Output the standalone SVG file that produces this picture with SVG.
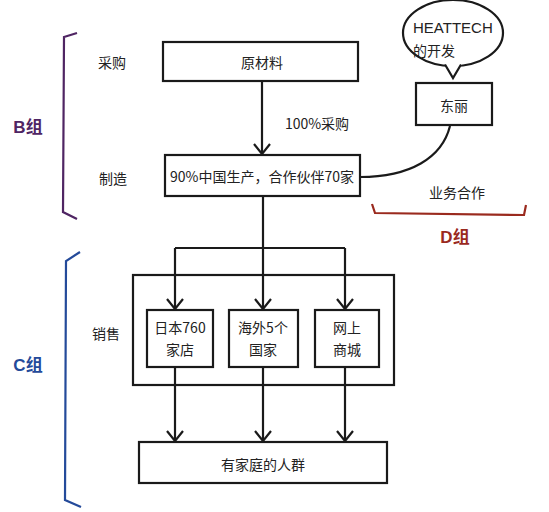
<svg xmlns="http://www.w3.org/2000/svg" width="549" height="512" viewBox="0 0 549 512">
<style>
.box{fill:#fff;stroke:#1a1a1a;stroke-width:2.2}
.ln{fill:none;stroke:#1a1a1a;stroke-width:2.2}
.t{font-family:"Noto Sans CJK SC","Liberation Sans",sans-serif;font-size:14px;fill:#222;text-anchor:middle;dominant-baseline:central}
.g{font-family:"Liberation Sans","Noto Sans CJK SC",sans-serif;font-size:17px;font-weight:bold;text-anchor:middle;dominant-baseline:central}
</style>
<defs>
<marker id="ah" markerUnits="userSpaceOnUse" markerWidth="24" markerHeight="24" viewBox="-12 -12 24 24" refX="0" refY="0" orient="auto">
<path d="M-10,-8 L0,0 L-10,8" fill="none" stroke="#1a1a1a" stroke-width="2.2"/>
</marker>
</defs>
<rect width="549" height="512" fill="#fff"/>

<g id="connectors">
<line class="ln" x1="262" y1="81" x2="262" y2="154" marker-end="url(#ah)"/>
<path class="ln" d="M263,196 L263,248"/>
<path class="ln" d="M175,248 L345,248"/>
<line class="ln" x1="175" y1="248" x2="175" y2="309" marker-end="url(#ah)"/>
<line class="ln" x1="263" y1="248" x2="263" y2="309" marker-end="url(#ah)"/>
<line class="ln" x1="345" y1="248" x2="345" y2="309" marker-end="url(#ah)"/>
<line class="ln" x1="175" y1="367" x2="175" y2="441" marker-end="url(#ah)"/>
<line class="ln" x1="263" y1="367" x2="263" y2="441" marker-end="url(#ah)"/>
<line class="ln" x1="345" y1="367" x2="345" y2="441" marker-end="url(#ah)"/>
<path class="ln" d="M450,126 C442,158 410,177 360,177"/>
</g>

<g id="group-B">
<path d="M77,33 L64,37 L63,212 L77,219" fill="none" stroke="#4f2563" stroke-width="2.2"/>
<text class="g" x="28" y="127" fill="#4f2563">B组</text>
</g>

<g id="label-caigou"><text class="t" x="112" y="62">采购</text></g>
<g id="label-zhizao"><text class="t" x="113" y="178">制造</text></g>
<g id="label-xiaoshou"><text class="t" x="106" y="333">销售</text></g>

<g id="raw">
<rect class="box" x="163" y="42" width="195" height="39"/>
<text class="t" x="262" y="62">原材料</text>
</g>

<g id="label-100"><text class="t" x="317" y="123">100%采购</text></g>

<g id="manufacture">
<rect class="box" x="165" y="155" width="195" height="41"/>
<text class="t" x="262" y="176">90%中国生产，合作伙伴70家</text>
</g>

<g id="bubble">
<ellipse cx="453" cy="33" rx="50" ry="33" fill="#fff" stroke="#1a1a1a" stroke-width="2.2"/>
<path d="M445,64 L453,78 L462,64" fill="#fff" stroke="none"/>
<path d="M445,64.5 L453,78 L461,64.5" fill="none" stroke="#1a1a1a" stroke-width="2.2"/>
<text class="t" x="413" y="27" style="text-anchor:start;font-size:15px;font-family:'Liberation Sans','Noto Sans CJK SC',sans-serif">HEATTECH</text>
<text class="t" x="413" y="50" style="text-anchor:start">的开发</text>
</g>

<g id="toray">
<rect class="box" x="416" y="83" width="76" height="42"/>
<text class="t" x="454" y="105">东丽</text>
</g>

<g id="label-coop"><text class="t" x="457" y="192">业务合作</text></g>

<g id="group-D">
<path d="M372,204 L375,213 L524,215 L526,205" fill="none" stroke="#9a2a1e" stroke-width="2.2"/>
<text class="g" x="455" y="237" fill="#9a2a1e">D组</text>
</g>

<g id="group-C">
<path d="M80,252 L66,261 L65,500 L81,507" fill="none" stroke="#244a9a" stroke-width="2.2"/>
<text class="g" x="28" y="365" fill="#244a9a">C组</text>
</g>

<g id="sales">
<rect class="box" x="133" y="275" width="261" height="110" fill="none" style="fill:none"/>
</g>

<g id="japan">
<rect class="box" x="147" y="310" width="66" height="57"/>
<text class="t" x="180" y="327">日本760</text>
<text class="t" x="180" y="349">家店</text>
</g>

<g id="overseas">
<rect class="box" x="229" y="310" width="69" height="57"/>
<text class="t" x="263" y="327">海外5个</text>
<text class="t" x="263" y="349">国家</text>
</g>

<g id="online">
<rect class="box" x="315" y="310" width="64" height="57"/>
<text class="t" x="347" y="327">网上</text>
<text class="t" x="347" y="349">商城</text>
</g>

<g id="families">
<rect class="box" x="139" y="442" width="248" height="41"/>
<text class="t" x="263" y="464">有家庭的人群</text>
</g>
</svg>
